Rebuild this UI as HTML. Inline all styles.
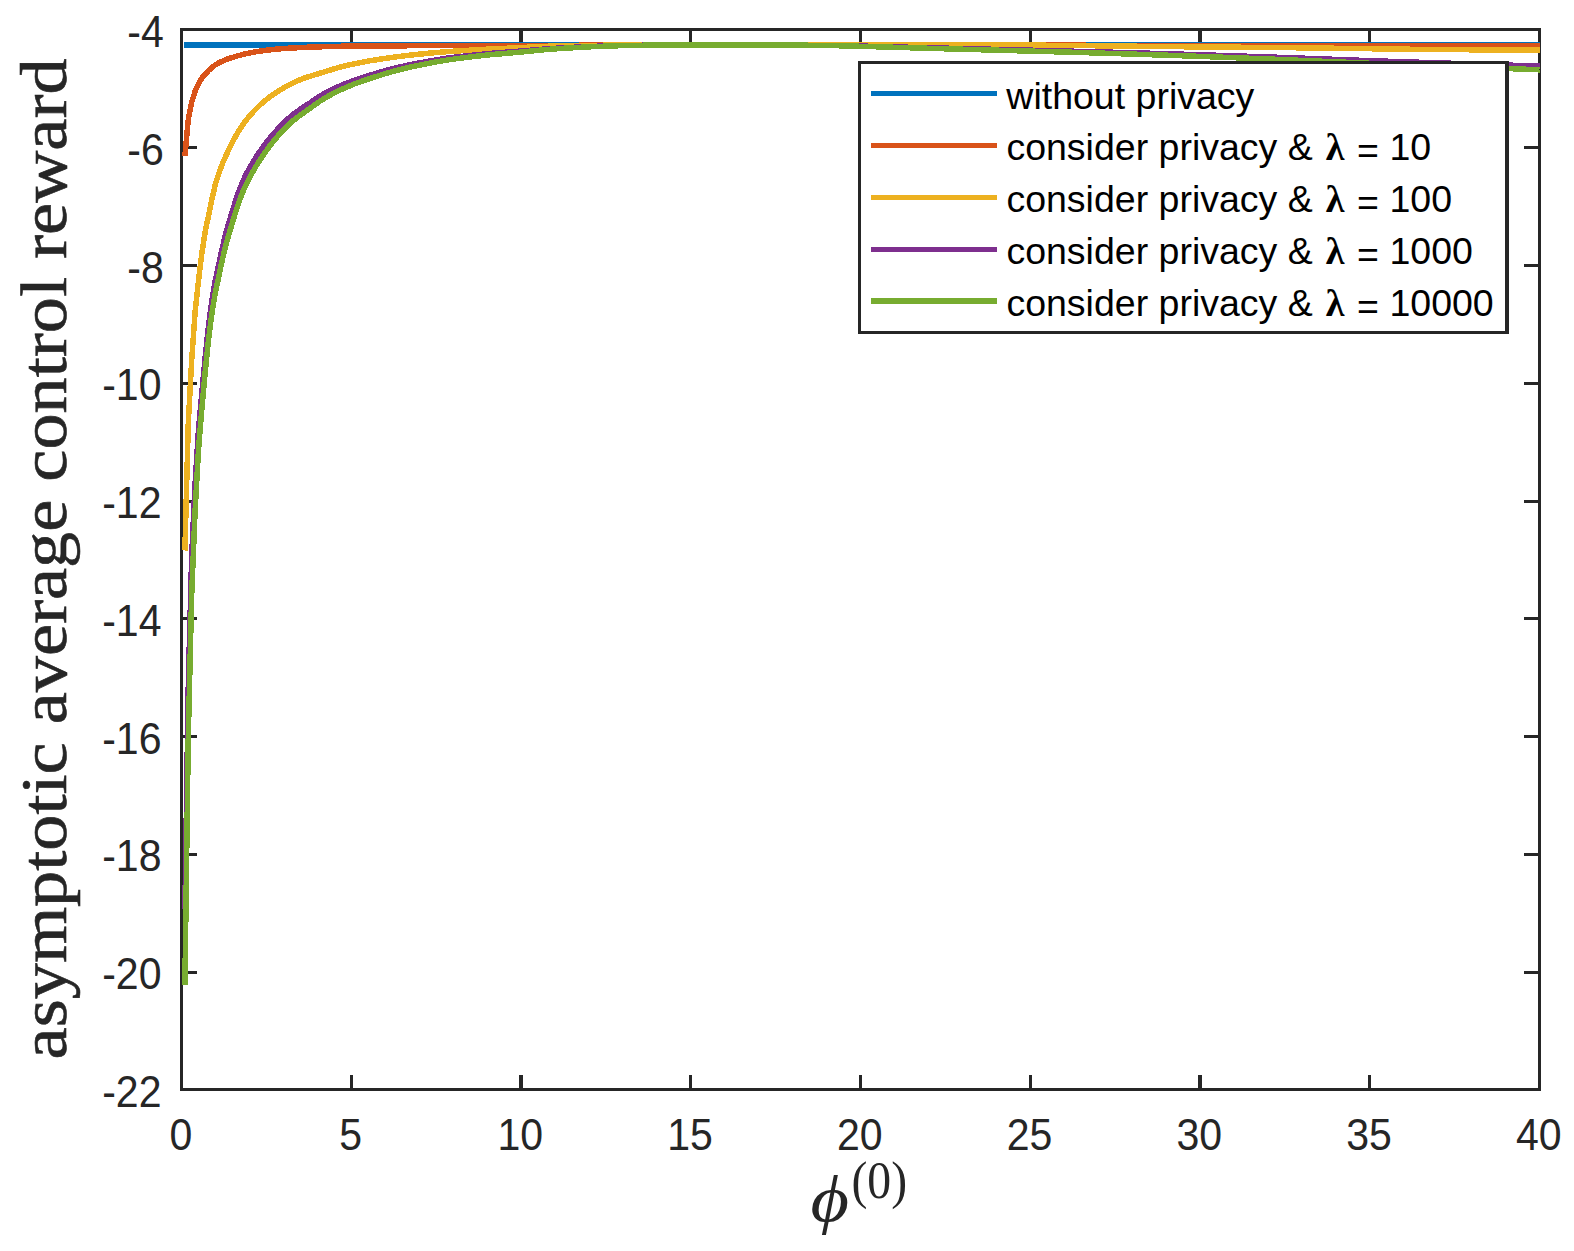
<!DOCTYPE html>
<html lang="en"><head><meta charset="utf-8"><title>asymptotic average control reward</title>
<style>html,body{margin:0;padding:0;background:#fff}svg{display:block}</style></head>
<body>
<svg width="1574" height="1251" viewBox="0 0 1574 1251">
<rect width="1574" height="1251" fill="#fff"/>
<g stroke="#262626" stroke-width="3" fill="none" shape-rendering="crispEdges">
<rect x="181.5" y="29.5" width="1358" height="1060"/>
<path d="M181.5 147.5 H197 M1539.5 147.5 H1524 M181.5 265.5 H197 M1539.5 265.5 H1524 M181.5 383.5 H197 M1539.5 383.5 H1524 M181.5 501.5 H197 M1539.5 501.5 H1524 M181.5 618.5 H197 M1539.5 618.5 H1524 M181.5 736.5 H197 M1539.5 736.5 H1524 M181.5 854.5 H197 M1539.5 854.5 H1524 M181.5 972.5 H197 M1539.5 972.5 H1524"/>
<rect x="350" y="1075" width="3" height="14" fill="#262626" stroke="none"/><rect x="350" y="30" width="3" height="14" fill="#262626" stroke="none"/>
<rect x="519" y="1075" width="4" height="14" fill="#262626" stroke="none"/><rect x="519" y="30" width="4" height="14" fill="#262626" stroke="none"/>
<rect x="689" y="1075" width="3" height="14" fill="#262626" stroke="none"/><rect x="689" y="30" width="3" height="14" fill="#262626" stroke="none"/>
<rect x="859" y="1075" width="3" height="14" fill="#262626" stroke="none"/><rect x="859" y="30" width="3" height="14" fill="#262626" stroke="none"/>
<rect x="1029" y="1075" width="3" height="14" fill="#262626" stroke="none"/><rect x="1029" y="30" width="3" height="14" fill="#262626" stroke="none"/>
<rect x="1198" y="1075" width="4" height="14" fill="#262626" stroke="none"/><rect x="1198" y="30" width="4" height="14" fill="#262626" stroke="none"/>
<rect x="1368" y="1075" width="3" height="14" fill="#262626" stroke="none"/><rect x="1368" y="30" width="3" height="14" fill="#262626" stroke="none"/>
</g>
<clipPath id="ax"><rect x="180" y="31" width="1360" height="1057"/></clipPath>
<g clip-path="url(#ax)" fill="none" stroke-width="5.5" stroke-linejoin="round" shape-rendering="crispEdges">
<polyline stroke="#0072BD" stroke-width="6" points="184,45.0 1540.0,45.0"/>
<polyline stroke="#D95319" points="184.9,155.8 188.3,119.5 191.7,102.1 195.1,91.4 198.5,83.6 201.9,78.1 205.3,73.9 208.7,70.4 212.1,67.4 215.4,64.9 218.8,62.9 222.2,61.2 225.6,59.8 229.0,58.5 235.8,56.4 242.6,54.5 249.4,53.0 252.8,52.3 259.6,51.2 266.4,50.2 273.2,49.5 280.0,48.8 293.5,47.9 310.5,47.1 337.7,46.3 361.4,46.0 419.2,45.7 531.2,45.5 626.2,45.0 1050.6,45.0 1071.0,45.1 1149.1,45.9 1539.5,46.1 1540.0,46.1"/>
<polyline stroke="#EDB120" points="184.9,550.5 188.3,422.7 191.7,359.8 195.1,312.0 198.5,280.6 201.9,252.8 205.3,231.1 212.1,198.5 215.4,184.1 218.8,173.3 222.2,164.2 225.6,156.4 229.0,149.2 232.4,142.3 235.8,135.9 239.2,130.1 242.6,125.0 246.0,120.4 249.4,116.2 252.8,112.3 256.2,108.7 259.6,105.4 263.0,102.4 266.4,99.6 269.8,96.9 273.2,94.5 280.0,90.1 286.7,86.1 290.1,84.3 296.9,81.1 300.3,79.6 303.7,78.3 310.5,76.1 334.3,68.8 341.1,66.9 347.9,65.2 358.0,63.0 371.6,60.5 385.2,58.4 398.8,56.5 412.4,54.9 425.9,53.5 442.9,52.0 456.5,51.0 490.4,49.0 510.8,48.1 541.4,46.5 558.3,45.9 595.7,45.3 643.2,45.0 1013.3,45.0 1064.2,45.4 1166.1,46.6 1291.7,47.7 1420.7,49.4 1488.6,49.9 1539.5,50.0 1540.0,50.0"/>
<polyline stroke="#7E2F8E" points="184.9,909.2 188.3,683.9 191.7,555.8 195.1,483.3 198.5,429.9 201.9,392.1 205.3,356.1 208.7,324.2 212.1,299.0 215.4,279.8 222.2,248.4 225.6,233.8 229.0,222.1 235.8,200.0 239.2,190.3 242.6,181.8 246.0,174.5 249.4,168.2 252.8,162.4 256.2,156.9 259.6,151.8 263.0,147.0 266.4,142.5 269.8,138.2 273.2,134.1 276.6,130.3 280.0,126.6 283.4,123.2 286.7,119.9 290.1,117.0 293.5,114.2 296.9,111.6 300.3,109.2 310.5,102.5 317.3,97.8 320.7,95.7 324.1,93.7 330.9,90.1 334.3,88.4 341.1,85.4 347.9,82.7 354.6,80.1 361.4,77.8 368.2,75.7 378.4,72.6 385.2,70.7 392.0,68.9 398.8,67.2 405.6,65.7 415.8,63.6 425.9,61.7 436.1,59.9 446.3,58.3 456.5,57.0 480.3,54.4 493.8,53.1 517.6,51.3 544.8,49.0 561.7,47.9 585.5,46.7 599.1,46.2 619.5,45.6 636.4,45.3 673.8,45.0 782.4,45.0 813.0,45.3 836.7,45.6 853.7,45.9 938.6,48.0 1084.6,51.5 1166.1,53.7 1264.5,56.8 1376.5,60.9 1505.6,65.0 1539.5,66.2 1540.0,66.2"/>
<polyline stroke="#77AC30" points="184.9,985.3 188.3,736.5 191.7,594.3 195.1,510.8 198.5,449.6 201.9,408.4 205.3,370.9 208.7,338.0 212.1,312.1 215.4,292.4 222.2,260.4 225.6,245.8 229.0,234.1 235.8,211.5 239.2,201.4 242.6,192.4 246.0,184.7 249.4,177.9 252.8,171.8 256.2,166.0 259.6,160.5 263.0,155.4 266.4,150.6 269.8,146.0 273.2,141.7 276.6,137.5 280.0,133.6 283.4,130.0 286.7,126.5 290.1,123.4 293.5,120.4 296.9,117.7 300.3,115.2 310.5,108.0 317.3,103.0 320.7,100.7 324.1,98.6 330.9,94.7 334.3,92.9 341.1,89.6 347.9,86.7 354.6,83.9 361.4,81.4 371.6,78.0 385.2,73.6 392.0,71.7 398.8,69.9 405.6,68.2 415.8,65.9 425.9,63.9 436.1,61.9 446.3,60.2 456.5,58.7 466.7,57.4 483.7,55.4 493.8,54.4 517.6,52.4 544.8,49.7 561.7,48.4 585.5,47.0 599.1,46.4 622.9,45.6 636.4,45.3 677.2,45.0 782.4,45.0 813.0,45.3 836.7,45.7 853.7,46.1 938.6,48.6 1084.6,52.6 1166.1,55.2 1213.6,56.9 1278.1,59.4 1386.7,64.0 1502.2,68.3 1539.5,69.8 1540.0,69.8"/>
</g>
<g font-family="'Liberation Sans', sans-serif" font-size="41.67" fill="#262626">
<text transform="translate(180.8,1150) scale(0.985,1.045)" text-anchor="middle">0</text>
<text transform="translate(350.6,1150) scale(0.985,1.045)" text-anchor="middle">5</text>
<text transform="translate(520.3,1150) scale(0.985,1.045)" text-anchor="middle">10</text>
<text transform="translate(690.0,1150) scale(0.985,1.045)" text-anchor="middle">15</text>
<text transform="translate(859.8,1150) scale(0.985,1.045)" text-anchor="middle">20</text>
<text transform="translate(1029.5,1150) scale(0.985,1.045)" text-anchor="middle">25</text>
<text transform="translate(1199.3,1150) scale(0.985,1.045)" text-anchor="middle">30</text>
<text transform="translate(1369.0,1150) scale(0.985,1.045)" text-anchor="middle">35</text>
<text transform="translate(1538.8,1150) scale(0.985,1.045)" text-anchor="middle">40</text>
<text transform="translate(163.8,46.9) scale(0.985,1.045)" text-anchor="end">-4</text>
<text transform="translate(163.8,164.7) scale(0.985,1.045)" text-anchor="end">-6</text>
<text transform="translate(163.8,282.5) scale(0.985,1.045)" text-anchor="end">-8</text>
<text transform="translate(161.5,400.2) scale(0.985,1.045)" text-anchor="end">-10</text>
<text transform="translate(161.5,518.0) scale(0.985,1.045)" text-anchor="end">-12</text>
<text transform="translate(161.5,635.8) scale(0.985,1.045)" text-anchor="end">-14</text>
<text transform="translate(161.5,753.6) scale(0.985,1.045)" text-anchor="end">-16</text>
<text transform="translate(161.5,871.3) scale(0.985,1.045)" text-anchor="end">-18</text>
<text transform="translate(161.5,989.1) scale(0.985,1.045)" text-anchor="end">-20</text>
<text transform="translate(161.5,1106.9) scale(0.985,1.045)" text-anchor="end">-22</text>
</g>
<text transform="translate(810.6,1220.6) scale(1.12,1)" font-family="'Liberation Serif', 'DejaVu Serif', serif" font-style="italic" font-size="66.5" fill="#262626">&#981;</text>
<text transform="translate(851.4,1197.8) scale(0.955,1.05)" font-family="'Liberation Serif', 'DejaVu Serif', serif" font-size="50" fill="#262626">(0)</text>
<text transform="translate(66,1059.4) rotate(-90)" font-family="'Liberation Serif', 'DejaVu Serif', serif" font-size="66" textLength="1001" lengthAdjust="spacingAndGlyphs" stroke="#262626" stroke-width="0.6" fill="#262626">asymptotic average control reward</text>
<rect x="859.5" y="62.5" width="648" height="270" fill="#fff" stroke="#262626" stroke-width="3" shape-rendering="crispEdges"/>
<rect x="1505" y="61" width="1" height="273" fill="#262626"/>
<g font-family="'Liberation Sans', sans-serif" font-size="37.5" fill="#000">
<line x1="871" y1="93.4" x2="997" y2="93.4" stroke="#0072BD" stroke-width="5.5" shape-rendering="crispEdges"/>
<text x="1006.3" y="108.5">without privacy</text>
<line x1="871" y1="145.4" x2="997" y2="145.4" stroke="#D95319" stroke-width="5.5" shape-rendering="crispEdges"/>
<text y="160.4"><tspan x="1006.4">consider privacy &amp;</tspan><tspan x="1325.7" font-family="'Liberation Serif', 'DejaVu Serif', serif" font-weight="bold" font-size="38">&#955;</tspan><tspan x="1357.1" dy="2.5">=</tspan><tspan dy="-2.5"> 10</tspan></text>
<line x1="871" y1="197.3" x2="997" y2="197.3" stroke="#EDB120" stroke-width="5.5" shape-rendering="crispEdges"/>
<text y="212.3"><tspan x="1006.4">consider privacy &amp;</tspan><tspan x="1325.7" font-family="'Liberation Serif', 'DejaVu Serif', serif" font-weight="bold" font-size="38">&#955;</tspan><tspan x="1357.1" dy="2.5">=</tspan><tspan dy="-2.5"> 100</tspan></text>
<line x1="871" y1="249.3" x2="997" y2="249.3" stroke="#7E2F8E" stroke-width="5.5" shape-rendering="crispEdges"/>
<text y="264.2"><tspan x="1006.4">consider privacy &amp;</tspan><tspan x="1325.7" font-family="'Liberation Serif', 'DejaVu Serif', serif" font-weight="bold" font-size="38">&#955;</tspan><tspan x="1357.1" dy="2.5">=</tspan><tspan dy="-2.5"> 1000</tspan></text>
<line x1="871" y1="301.2" x2="997" y2="301.2" stroke="#77AC30" stroke-width="5.5" shape-rendering="crispEdges"/>
<text y="316.1"><tspan x="1006.4">consider privacy &amp;</tspan><tspan x="1325.7" font-family="'Liberation Serif', 'DejaVu Serif', serif" font-weight="bold" font-size="38">&#955;</tspan><tspan x="1357.1" dy="2.5">=</tspan><tspan dy="-2.5"> 10000</tspan></text>
</g>
</svg>
</body></html>
